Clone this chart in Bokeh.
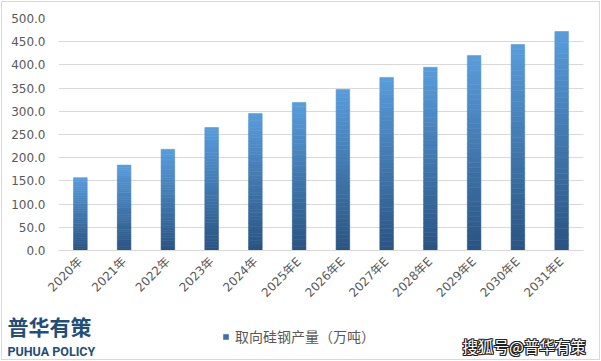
from bokeh.plotting import figure
from bokeh.layouts import column
from bokeh.models import ColumnDataSource, FactorRange, Range1d, Label, Legend, LegendItem, NumeralTickFormatter
from bokeh.embed import file_html
from bokeh.resources import INLINE
from math import pi

years = ["2020年", "2021年", "2022年", "2023年", "2024年", "2025年E", "2026年E",
         "2027年E", "2028年E", "2029年E", "2030年E", "2031年E"]
output = [157, 184, 218, 265, 295, 319, 347, 373, 395, 420, 444, 472]
series_name = "取向硅钢产量（万吨）"

W = 601
H1, H2 = 309, 52
FL, FR, FT, FB = 58, 18, 18, 59

# gradient slices derived from data
N = 40
top_rgb = (90, 157, 220)
bot_rgb = (42, 84, 130)
xs, bots, tops, cols = [], [], [], []
for cat, v in zip(years, output):
    for k in range(N):
        t = (k + 0.5) / N
        r = int(bot_rgb[0] + (top_rgb[0] - bot_rgb[0]) * t)
        g = int(bot_rgb[1] + (top_rgb[1] - bot_rgb[1]) * t)
        b = int(bot_rgb[2] + (top_rgb[2] - bot_rgb[2]) * t)
        xs.append(cat)
        bots.append(v * k / N)
        tops.append(v * (k + 1) / N)
        cols.append("#%02x%02x%02x" % (r, g, b))
src = ColumnDataSource(dict(x=xs, bottom=bots, top=tops, color=cols))

p = figure(width=W, height=H1, x_range=FactorRange(*years, range_padding=0),
           y_range=Range1d(0, 500), output_backend="svg", toolbar_location=None,
           min_border_left=FL, min_border_right=FR, min_border_top=FT, min_border_bottom=FB)
p.outline_line_color = None
p.background_fill_color = None
p.border_fill_color = None

r = p.vbar(x="x", bottom="bottom", top="top", width=0.31, source=src,
           fill_color="color", line_color="color", line_width=0.6)

p.xgrid.grid_line_color = None
p.ygrid.grid_line_color = "#d9d9d9"
p.ygrid.grid_line_width = 1
p.yaxis.ticker = [0, 50, 100, 150, 200, 250, 300, 350, 400, 450, 500]
p.yaxis.formatter = NumeralTickFormatter(format="0.0")
p.yaxis.axis_line_color = None
p.yaxis.major_tick_line_color = None
p.yaxis.minor_tick_line_color = None
p.yaxis.major_tick_out = 0
p.yaxis.major_label_text_font = "DejaVu Sans"
p.yaxis.major_label_text_font_size = "12px"
p.yaxis.major_label_text_color = "#595959"
p.yaxis.major_label_standoff = 13

p.xaxis.axis_line_color = "#d9d9d9"
p.xaxis.major_tick_line_color = None
p.xaxis.minor_tick_line_color = None
p.xaxis.major_tick_out = 0
p.xaxis.major_label_orientation = pi / 4
p.xaxis.major_label_text_font = "DejaVu Sans, Noto Sans CJK SC"
p.xaxis.major_label_text_font_size = "12px"
p.xaxis.major_label_text_color = "#595959"
p.xaxis.major_label_standoff = 9

# bottom strip: logo, legend, watermark (data coords = pixel coords)
q = figure(width=W, height=H2, x_range=Range1d(0, W), y_range=Range1d(H1 + H2, H1),
           output_backend="svg", toolbar_location=None,
           min_border_left=0, min_border_right=0, min_border_top=0, min_border_bottom=0)
q.axis.visible = False
q.grid.visible = False
q.outline_line_color = None
q.background_fill_color = None
q.border_fill_color = None
for fig in (p, q):
    try:
        fig.frame_align = False
    except Exception:
        pass

dummy = q.quad(left=[-100], right=[-99], bottom=[-100], top=[-99],
               fill_color="#3b72aa", line_color=None)
legend = Legend(items=[LegendItem(label=series_name, renderers=[dummy])],
                location=(222, 15), orientation="horizontal",
                glyph_width=7, glyph_height=7, label_standoff=6, padding=0, margin=0,
                border_line_color=None, background_fill_alpha=0,
                label_text_font="Noto Sans CJK SC", label_text_font_size="14px",
                label_text_color="#595959")
q.add_layout(legend, "center")

q.add_layout(Label(x=7, y=325, text="普华有策", text_baseline="middle",
                   text_font="Noto Sans CJK SC", text_font_style="bold",
                   text_font_size="21px", text_color="#1f4e79"))
q.add_layout(Label(x=7, y=351, text="PUHUA POLICY", text_baseline="middle",
                   text_font="Roboto", text_font_style="bold",
                   text_font_size="12.5px", text_color="#1f4e79"))

wm = "搜狐号@普华有策"
for dx, dy in [(-1, 0), (1, 0), (0, -1), (0, 1), (-1, -1), (1, 1), (-1, 1), (1, -1)]:
    q.add_layout(Label(x=462, y=345, text=wm, text_baseline="middle",
                       x_offset=dx, y_offset=dy,
                       text_font="Noto Sans CJK SC", text_font_size="15.5px", text_color="#222222"))
q.add_layout(Label(x=462, y=345, text=wm, text_baseline="middle",
                   text_font="Noto Sans CJK SC", text_font_size="15.5px", text_color="white"))

layout = column(p, q, spacing=0,
                styles={"background": "white",
                        "box-shadow": "inset 0 0 0 1px white, inset 0 0 0 2px #d9d9d9"})
open("out.html", "w").write(file_html(layout, INLINE))
